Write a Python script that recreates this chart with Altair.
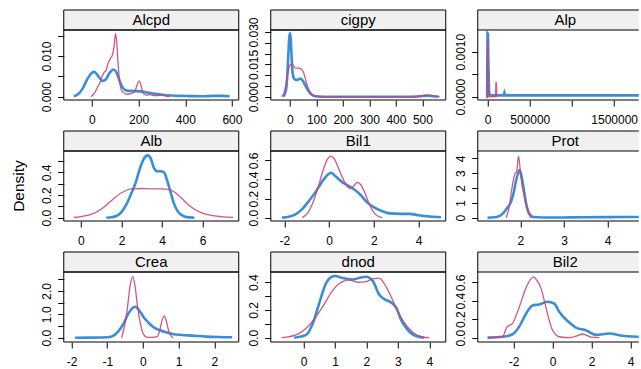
import altair as alt
import pandas as pd

FONT = "Liberation Sans"
BLUE = "#2d88d6"
RED = "#cf4275"
STRIP_FILL = "#f0f0f0"
W, H = 175, 70
W_LAST = 161  # right column is cut by the picture's edge

# ---------------- data ----------------
alcpd_b_x = [-78, -60, -40, -20, 0, 10, 25, 45, 60, 75, 93, 105, 118, 132, 150, 180, 210, 240, 270, 300, 340, 380, 420, 470, 520, 560, 590]
alcpd_b_y = [0.0001, 0.0006, 0.002, 0.0043, 0.0059, 0.0061, 0.0052, 0.0039, 0.0043, 0.0058, 0.0067, 0.0060, 0.0040, 0.0022, 0.0015, 0.0014, 0.0013, 0.0010, 0.0007, 0.0005, 0.0003, 0.0002, 0.00015, 0.0001, 0.0002, 0.0002, 0.0001]
alcpd_r_x = [-5, 10, 25, 35, 45, 52, 60, 68, 78, 88, 95, 101, 106, 112, 118, 125, 135, 150, 170, 185, 195, 203, 210, 220, 235, 250, 265, 285, 300, 315, 332]
alcpd_r_y = [0.0, 0.0008, 0.0025, 0.0035, 0.0052, 0.0060, 0.0064, 0.0080, 0.0093, 0.0103, 0.0125, 0.0155, 0.0135, 0.0080, 0.0040, 0.0018, 0.0010, 0.0006, 0.0008, 0.0015, 0.0032, 0.0039, 0.0028, 0.0008, 0.0004, 0.0005, 0.0003, 0.0003, 0.0005, 0.0002, 0.0]

cigpy_b_x = [-25, -15, -10, -6, -3, 0, 3, 6, 10, 15, 22, 30, 40, 48, 58, 68, 80, 95, 120, 200, 300, 400, 470, 500, 520, 540, 560]
cigpy_b_y = [0.0, 0.003, 0.010, 0.020, 0.027, 0.0295, 0.027, 0.019, 0.011, 0.0085, 0.0078, 0.0079, 0.0084, 0.0075, 0.0052, 0.0030, 0.0011, 0.0002, 0.0, 0.0, 0.0, 0.0, 0.0, 0.0003, 0.0005, 0.0002, 0.0]
cigpy_r_x = [-32, -22, -13, -5, 2, 8, 15, 22, 32, 42, 52, 62, 72, 85, 100, 130, 200, 300, 400, 480, 505, 525, 545, 565]
cigpy_r_y = [0.0, 0.002, 0.007, 0.0125, 0.0150, 0.0152, 0.0140, 0.0133, 0.0133, 0.0128, 0.0110, 0.0065, 0.0030, 0.0010, 0.0002, 0.0, 0.0, 0.0, 0.0, 0.0001, 0.0005, 0.0007, 0.0004, 0.0]

alp_b_x = [-15000, -5000, 0, 5000, 10000, 18000, 30000, 100000, 190000, 200000, 210000, 500000, 1000000, 1500000, 1950000]
alp_b_y = [0.0, 0.0, 0.00141, 0.00140, 0.00076, 0.00010, 0.00003, 0.00003, 0.00003, 0.00009, 0.00003, 0.00003, 0.00003, 0.00003, 0.00003]
alp_r_x = [-10000, -3000, 0, 3000, 10000, 15000, 95000, 100000, 105000, 110000, 115000]
alp_r_y = [0.0, 0.0, 0.00128, 0.0011, 0.00010, 0.0, 0.0, 0.00033, 0.00030, 0.0, 0.0]

alb_b_x = [1.25, 1.5, 1.75, 2.0, 2.25, 2.5, 2.7, 2.9, 3.1, 3.3, 3.45, 3.6, 3.75, 3.9, 4.1, 4.25, 4.4, 4.6, 4.8, 5.0, 5.2, 5.6]
alb_b_y = [0.0, 0.004, 0.015, 0.05, 0.12, 0.22, 0.31, 0.43, 0.52, 0.55, 0.52, 0.44, 0.41, 0.41, 0.40, 0.33, 0.24, 0.12, 0.05, 0.02, 0.005, 0.0]
alb_r_x = [-0.35, 0.0, 0.5, 1.0, 1.5, 2.0, 2.5, 3.0, 3.5, 4.0, 4.4, 4.8, 5.2, 5.6, 6.0, 6.5, 7.0, 7.5]
alb_r_y = [0.002, 0.01, 0.03, 0.075, 0.15, 0.22, 0.255, 0.258, 0.255, 0.255, 0.245, 0.20, 0.13, 0.075, 0.04, 0.018, 0.008, 0.003]

bil1_b_x = [-2.1, -1.8, -1.5, -1.2, -0.9, -0.6, -0.3, 0.0, 0.1, 0.3, 0.6, 0.9, 1.1, 1.4, 1.7, 2.0, 2.3, 2.7, 3.2, 3.6, 4.0, 4.5, 5.0]
bil1_b_y = [0.0, 0.01, 0.035, 0.09, 0.175, 0.27, 0.38, 0.46, 0.47, 0.43, 0.37, 0.33, 0.30, 0.24, 0.16, 0.11, 0.075, 0.045, 0.04, 0.04, 0.025, 0.012, 0.004]
bil1_r_x = [-1.2, -0.95, -0.75, -0.5, -0.3, -0.1, 0.07, 0.25, 0.4, 0.6, 0.8, 0.95, 1.1, 1.25, 1.4, 1.6, 1.8, 2.05, 2.38]
bil1_r_y = [0.0, 0.05, 0.14, 0.31, 0.47, 0.60, 0.645, 0.61, 0.53, 0.42, 0.33, 0.305, 0.33, 0.37, 0.35, 0.26, 0.14, 0.04, 0.0]

prot_b_x = [1.25, 1.4, 1.52, 1.62, 1.7, 1.79, 1.85, 1.9, 1.95, 1.98, 2.02, 2.07, 2.13, 2.2, 2.3, 2.5, 3.0, 3.5, 4.0, 4.5, 5.0]
prot_b_y = [0.0, 0.03, 0.11, 0.35, 0.65, 1.08, 1.7, 2.45, 3.0, 3.2, 2.9, 2.1, 1.0, 0.3, 0.05, 0.02, 0.02, 0.03, 0.04, 0.05, 0.03]
prot_r_x = [1.68, 1.75, 1.81, 1.87, 1.92, 1.96, 2.0, 2.05, 2.1, 2.15, 2.2, 2.25]
prot_r_y = [0.0, 0.8, 2.0, 2.9, 3.15, 4.15, 3.2, 2.0, 1.4, 0.8, 0.25, 0.0]

crea_b_x = [-1.9, -1.5, -1.0, -0.85, -0.7, -0.55, -0.4, -0.28, -0.21, -0.12, -0.05, 0.05, 0.18, 0.3, 0.46, 0.65, 0.83, 1.1, 1.4, 1.77, 2.1, 2.5]
crea_b_y = [0.0, 0.005, 0.02, 0.07, 0.25, 0.58, 1.05, 1.28, 1.32, 1.2, 1.04, 0.82, 0.61, 0.45, 0.33, 0.23, 0.16, 0.12, 0.09, 0.05, 0.03, 0.02]
crea_r_x = [-0.6, -0.5, -0.43, -0.36, -0.29, -0.22, -0.15, -0.07, 0.0, 0.1, 0.25, 0.4, 0.47, 0.53, 0.6, 0.66, 0.72, 0.8, 0.85]
crea_r_y = [0.0, 0.6, 1.32, 2.2, 2.6, 2.2, 1.32, 0.6, 0.2, 0.03, 0.02, 0.05, 0.3, 0.7, 0.93, 0.7, 0.3, 0.05, 0.0]

dnod_b_x = [-0.3, 0.08, 0.29, 0.5, 0.71, 0.9, 1.0, 1.24, 1.56, 1.83, 1.99, 2.2, 2.41, 2.6, 2.78, 2.95, 3.1, 3.3, 3.5, 3.63, 3.84]
dnod_b_y = [0.0, 0.02, 0.10, 0.25, 0.39, 0.44, 0.445, 0.43, 0.42, 0.435, 0.44, 0.41, 0.31, 0.275, 0.255, 0.215, 0.13, 0.06, 0.02, 0.008, 0.0]
dnod_r_x = [-0.7, -0.24, 0.18, 0.6, 0.92, 1.24, 1.45, 1.72, 1.99, 2.2, 2.41, 2.62, 2.94, 3.2, 3.47, 3.79, 4.0]
dnod_r_y = [0.0, 0.02, 0.09, 0.22, 0.34, 0.405, 0.415, 0.40, 0.405, 0.425, 0.43, 0.37, 0.22, 0.11, 0.04, 0.005, 0.0]

bil2_b_x = [-3.33, -2.56, -2.05, -1.71, -1.36, -1.03, -0.68, -0.26, 0.09, 0.34, 0.77, 1.2, 1.71, 2.23, 2.9, 3.59, 4.3, 5.0]
bil2_b_y = [0.0, 0.01, 0.037, 0.12, 0.26, 0.35, 0.36, 0.39, 0.37, 0.28, 0.18, 0.11, 0.08, 0.03, 0.045, 0.02, 0.01, 0.003]
bil2_r_x = [-3.33, -2.56, -2.36, -2.05, -1.71, -1.36, -1.1, -0.97, -0.8, -0.6, -0.26, 0.0, 0.34, 0.9, 1.25, 1.54, 2.0, 2.4]
bil2_r_y = [0.0, 0.01, 0.11, 0.155, 0.33, 0.54, 0.64, 0.66, 0.62, 0.54, 0.26, 0.08, 0.01, 0.0, 0.02, 0.04, 0.005, 0.0]

# axis ticks and labels ('' = tick without label)
alcpd_xt, alcpd_xl = [0, 200, 400, 600], ["0", "200", "400", "600"]
alcpd_yt, alcpd_yl = [0, 0.005, 0.01, 0.015], ["0.000", "", "0.010", ""]
cigpy_xt, cigpy_xl = [0, 100, 200, 300, 400, 500], ["0", "100", "200", "300", "400", "500"]
cigpy_yt, cigpy_yl = [0, 0.005, 0.01, 0.015, 0.02, 0.025, 0.03], ["0.000", "", "", "0.015", "", "", "0.030"]
alp_xt, alp_xl = [0, 500000, 1000000, 1500000], ["0", "500000", "", "1500000"]
alp_yt, alp_yl = [0, 0.0005, 0.001], ["0.0000", "", "0.0010"]
alb_xt, alb_xl = [0, 2, 4, 6], ["0", "2", "4", "6"]
alb_yt, alb_yl = [0, 0.1, 0.2, 0.3, 0.4, 0.5], ["0.0", "", "0.2", "", "0.4", ""]
bil1_xt, bil1_xl = [-2, 0, 2, 4], ["-2", "0", "2", "4"]
bil1_yt, bil1_yl = [0, 0.2, 0.4, 0.6], ["0.0", "0.2", "0.4", "0.6"]
prot_xt, prot_xl = [2, 3, 4], ["2", "3", "4"]
prot_yt, prot_yl = [0, 1, 2, 3, 4], ["0", "1", "2", "3", "4"]
crea_xt, crea_xl = [-2, -1, 0, 1, 2], ["-2", "-1", "0", "1", "2"]
crea_yt, crea_yl = [0, 0.5, 1, 1.5, 2, 2.5], ["0.0", "", "1.0", "", "2.0", ""]
dnod_xt, dnod_xl = [0, 1, 2, 3, 4], ["0", "1", "2", "3", "4"]
dnod_yt, dnod_yl = [0, 0.1, 0.2, 0.3, 0.4], ["0.0", "", "0.2", "", "0.4"]
bil2_xt, bil2_xl = [-2, 0, 2, 4], ["-2", "0", "2", "4"]
bil2_yt, bil2_yl = [0, 0.2, 0.4, 0.6], ["0.0", "0.2", "0.4", "0.6"]

# scale domains (visible part of each panel)
alcpd_xd, alcpd_yd = [-120.9, 629.1], [-0.00081, 0.01639]
cigpy_xd, cigpy_yd = [-72.5, 587.9], [-0.00153, 0.03094]
alp_xd, alp_yd = [-116114, 1791470], [-0.0000733, 0.001482]
alb_xd, alb_yd = [-0.849, 7.785], [-0.029, 0.589]
bil1_xd, bil1_yd = [-2.605, 5.214], [-0.035, 0.698]
prot_xd, prot_yd = [1.027, 4.711], [-0.22, 4.49]
crea_xd, crea_yd = [-2.218, 2.686], [-0.18, 2.80]
dnod_xd, dnod_yd = [-1.044, 4.524], [-0.031, 0.474]
bil2_xd, bil2_yd = [-3.836, 4.420], [-0.047, 0.712]


def label_expr(ticks, labels):
    expr = "''"
    for t, l in reversed(list(zip(ticks, labels))):
        expr = f"datum.value == {t!r} ? '{l}' : ({expr})"
    return expr


def hline(df, y, w):
    return alt.Chart(df).mark_rule(color="black", strokeWidth=1).encode(
        x=alt.value(0), x2=alt.value(w), y=alt.value(y))


def panel(name, bx, by, rx, ry, xd, yd, xt, xl, yt, yl, interp="monotone",
          ylabel=False, last=False):
    w = W_LAST if last else W
    xs = alt.X("x:Q", scale=alt.Scale(domain=xd, nice=False, zero=False),
               axis=alt.Axis(values=xt, labelExpr=label_expr(xt, xl), title=None, grid=False,
                             domain=False, tickColor="black", tickSize=6, labelFont=FONT,
                             labelFontSize=12, labelColor="black", labelPadding=8,
                             labelFlush=False, labelOverlap=False))
    ys = alt.Y("y:Q", scale=alt.Scale(domain=yd, nice=False, zero=False),
               axis=alt.Axis(values=yt, labelExpr=label_expr(yt, yl), title=None, grid=False,
                             domain=False, tickColor="black", tickSize=6, labelFont=FONT,
                             labelFontSize=12, labelColor="black", labelPadding=4,
                             labelAngle=270, labelAlign="center", labelBaseline="bottom",
                             labelFlush=False, labelOverlap=False))
    dfb = pd.DataFrame({"x": bx, "y": by, "i": range(len(bx))})
    dfr = pd.DataFrame({"x": rx, "y": ry, "i": range(len(rx))})
    blue = alt.Chart(dfb).mark_line(color=BLUE, strokeWidth=2.6, interpolate=interp, clip=True,
                                    opacity=0.95).encode(x=xs, y=ys, order="i:Q")
    red = alt.Chart(dfr).mark_line(color=RED, strokeWidth=1.3, interpolate=interp, clip=True,
                                   opacity=0.9).encode(x=xs, y=ys, order="i:Q")
    sdf = pd.DataFrame({"label": [name]})
    stext = alt.Chart(sdf).mark_text(font=FONT, fontSize=15, color="black", baseline="middle",
                                     align="center").encode(
        x=alt.value(W / 2), y=alt.value(-10), text="label:N")
    if last:
        strip = alt.Chart(sdf).mark_rect(fill=STRIP_FILL).encode(
            x=alt.value(0), x2=alt.value(w), y=alt.value(-20), y2=alt.value(0))
        frame = [hline(sdf, -20, w), hline(sdf, 0, w), hline(sdf, H, w),
                 alt.Chart(sdf).mark_rule(color="black", strokeWidth=1).encode(
                     x=alt.value(0), y=alt.value(-20), y2=alt.value(H))]
        layers = [blue, red, strip] + frame + [stext]
    else:
        strip = alt.Chart(sdf).mark_rect(fill=STRIP_FILL, stroke="black", strokeWidth=1).encode(
            x=alt.value(0), x2=alt.value(w), y=alt.value(-20), y2=alt.value(0))
        box = alt.Chart(sdf).mark_rect(fillOpacity=0, stroke="black", strokeWidth=1).encode(
            x=alt.value(0), x2=alt.value(w), y=alt.value(0), y2=alt.value(H))
        layers = [blue, red, strip, box, stext]
    if ylabel:
        dtext = alt.Chart(sdf).mark_text(font=FONT, fontSize=15.5, color="black", angle=270,
                                         baseline="middle", align="center").encode(
            x=alt.value(-45), y=alt.value(H / 2), text=alt.value("Density"))
        layers.append(dtext)
    return alt.layer(*layers).properties(width=w, height=H)


p1 = panel("Alcpd", alcpd_b_x, alcpd_b_y, alcpd_r_x, alcpd_r_y, alcpd_xd, alcpd_yd, alcpd_xt, alcpd_xl, alcpd_yt, alcpd_yl)
p2 = panel("cigpy", cigpy_b_x, cigpy_b_y, cigpy_r_x, cigpy_r_y, cigpy_xd, cigpy_yd, cigpy_xt, cigpy_xl, cigpy_yt, cigpy_yl)
p3 = panel("Alp", alp_b_x, alp_b_y, alp_r_x, alp_r_y, alp_xd, alp_yd, alp_xt, alp_xl, alp_yt, alp_yl, interp="linear", last=True)
p4 = panel("Alb", alb_b_x, alb_b_y, alb_r_x, alb_r_y, alb_xd, alb_yd, alb_xt, alb_xl, alb_yt, alb_yl, ylabel=True)
p5 = panel("Bil1", bil1_b_x, bil1_b_y, bil1_r_x, bil1_r_y, bil1_xd, bil1_yd, bil1_xt, bil1_xl, bil1_yt, bil1_yl)
p6 = panel("Prot", prot_b_x, prot_b_y, prot_r_x, prot_r_y, prot_xd, prot_yd, prot_xt, prot_xl, prot_yt, prot_yl, last=True)
p7 = panel("Crea", crea_b_x, crea_b_y, crea_r_x, crea_r_y, crea_xd, crea_yd, crea_xt, crea_xl, crea_yt, crea_yl)
p8 = panel("dnod", dnod_b_x, dnod_b_y, dnod_r_x, dnod_r_y, dnod_xd, dnod_yd, dnod_xt, dnod_xl, dnod_yt, dnod_yl)
p9 = panel("Bil2", bil2_b_x, bil2_b_y, bil2_r_x, bil2_r_y, bil2_xd, bil2_yd, bil2_xt, bil2_xl, bil2_yt, bil2_yl, last=True)

chart = alt.concat(p1, p2, p3, p4, p5, p6, p7, p8, p9, columns=3,
                   spacing={"row": 51, "column": 32}, bounds="flush").properties(
    padding={"left": 11.75, "top": 9, "right": 0, "bottom": 0},
    background="white",
).configure_view(stroke="transparent", strokeWidth=0)

chart.save("out.html", embed_options={"renderer": "svg", "actions": False})
